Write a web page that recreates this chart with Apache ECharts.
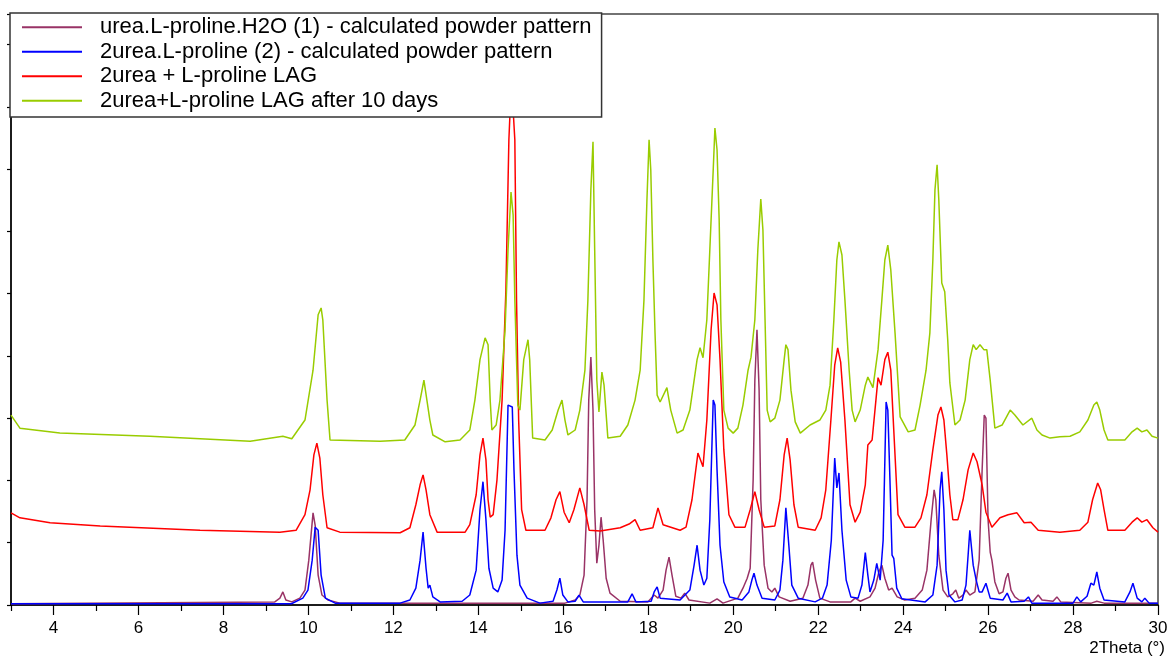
<!DOCTYPE html>
<html>
<head>
<meta charset="utf-8">
<script src="https://cdn.jsdelivr.net/npm/echarts@6/dist/echarts.min.js"></script>
<style>
html,body{margin:0;padding:0;background:#fff;}
#chart{width:1171px;height:660px;}
</style>
</head>
<body>
<div id="chart"></div>
<script>
// ---- Data (2Theta in degrees, intensity in arbitrary counts) ----
const seriesNames = [
  'urea.L-proline.H2O (1) - calculated powder pattern',
  '2urea.L-proline (2) - calculated powder pattern',
  '2urea + L-proline LAG',
  '2urea+L-proline LAG after 10 days'
];

const majorTicks = [4,6,8,10,12,14,16,18,20,22,24,26,28,30];
const minorTicks = [3,5,7,9,11,13,15,17,19,21,23,25,27,29];

const patternH2O = [
  [3.00,2],[9.21,5],[9.33,11],[9.40,21],[9.47,8],[9.61,5],[9.80,11],[9.92,24],[10.01,72],
  [10.11,148],[10.16,128],[10.23,48],[10.32,16],[10.46,8],[10.74,3],[16.04,3],[16.28,8],
  [16.39,16],[16.49,48],[16.56,169],[16.60,329],[16.65,398],[16.70,313],[16.74,153],[16.79,67],
  [16.84,96],[16.89,141],[16.94,104],[17.01,43],[17.10,19],[17.34,6],[17.99,5],[18.14,16],
  [18.23,11],[18.35,24],[18.42,56],[18.49,77],[18.56,48],[18.65,14],[18.77,11],[18.86,19],
  [18.96,8],[19.45,3],[19.62,10],[19.76,3],[20.11,11],[20.23,27],[20.33,43],[20.40,59],
  [20.47,201],[20.51,361],[20.56,442],[20.61,345],[20.65,169],[20.73,64],[20.82,27],[20.91,21],
  [20.98,27],[21.08,13],[21.34,6],[21.64,11],[21.76,32],[21.83,64],[21.87,69],[21.94,40],
  [22.04,11],[22.28,5],[22.77,5],[22.87,11],[22.99,6],[23.22,13],[23.34,27],[23.43,53],
  [23.50,64],[23.57,43],[23.66,24],[23.74,27],[23.86,13],[24.04,8],[24.28,11],[24.45,24],
  [24.56,56],[24.66,137],[24.73,185],[24.77,169],[24.84,80],[24.94,24],[25.05,13],[25.17,18],
  [25.24,24],[25.31,11],[25.41,16],[25.48,24],[25.57,16],[25.69,21],[25.79,72],[25.86,217],
  [25.91,305],[25.95,300],[26.00,137],[26.05,85],[26.09,72],[26.16,37],[26.26,18],[26.35,21],
  [26.42,43],[26.47,51],[26.54,24],[26.63,13],[26.73,8],[27.06,6],[27.18,16],[27.27,8],
  [27.53,6],[27.62,13],[27.71,5],[28.43,3],[28.56,6],[28.73,3],[30.00,3]
];

const pattern2Urea = [
  [3.00,2],[9.60,2],[9.87,11],[9.99,24],[10.09,72],[10.16,125],[10.23,120],[10.30,48],
  [10.40,11],[10.63,3],[12.16,3],[12.39,8],[12.53,27],[12.63,72],[12.70,117],[12.77,59],
  [12.82,27],[12.86,32],[12.93,13],[13.10,5],[13.62,6],[13.80,16],[13.95,56],[14.04,153],
  [14.11,198],[14.18,137],[14.25,59],[14.35,27],[14.46,21],[14.56,40],[14.63,120],[14.70,321],
  [14.80,318],[14.84,217],[14.91,80],[14.98,32],[15.15,11],[15.45,3],[15.76,6],[15.85,24],
  [15.92,43],[15.99,16],[16.11,5],[16.28,6],[16.37,16],[16.47,5],[17.52,5],[17.62,18],
  [17.71,5],[18.07,6],[18.14,21],[18.21,29],[18.28,11],[18.75,8],[18.98,24],[19.08,64],
  [19.15,96],[19.22,56],[19.31,32],[19.38,43],[19.45,137],[19.53,329],[19.57,321],[19.62,217],
  [19.69,96],[19.78,37],[19.92,13],[20.21,8],[20.37,21],[20.44,40],[20.49,51],[20.56,32],
  [20.68,11],[20.98,8],[21.10,24],[21.17,72],[21.24,156],[21.31,96],[21.38,32],[21.53,11],
  [21.93,5],[22.10,11],[22.21,32],[22.31,104],[22.39,236],[22.44,188],[22.49,212],[22.56,120],
  [22.66,40],[22.77,13],[22.94,11],[23.03,32],[23.11,84],[23.17,48],[23.22,21],[23.31,40],
  [23.38,67],[23.46,40],[23.53,104],[23.60,326],[23.64,313],[23.69,201],[23.74,80],[23.78,75],
  [23.85,27],[23.97,10],[24.52,5],[24.70,16],[24.80,64],[24.87,185],[24.91,214],[24.96,153],
  [25.01,56],[25.08,16],[25.22,5],[25.39,8],[25.48,32],[25.53,80],[25.57,120],[25.65,64],
  [25.72,40],[25.79,21],[25.86,21],[25.95,35],[26.05,11],[26.35,8],[26.45,19],[26.54,5],
  [26.85,6],[26.95,13],[27.03,3],[28.00,3],[28.09,13],[28.18,5],[28.33,14],[28.42,35],
  [28.49,32],[28.56,53],[28.63,27],[28.73,8],[29.22,5],[29.34,21],[29.41,35],[29.51,11],
  [29.62,5],[29.69,11],[29.79,3],[30.00,3]
];

const patternLAG = [
  [3.00,148],[3.21,140],[3.92,132],[5.10,127],[7.45,120],[9.33,117],[9.71,120],[9.92,145],
  [10.04,185],[10.13,241],[10.20,260],[10.27,236],[10.34,177],[10.44,124],[10.74,117],
  [12.16,116],[12.39,124],[12.53,161],[12.63,193],[12.70,209],[12.77,185],[12.86,145],
  [13.03,117],[13.69,117],[13.80,129],[13.95,177],[14.04,241],[14.11,268],[14.18,233],
  [14.23,169],[14.28,141],[14.35,145],[14.44,201],[14.56,329],[14.65,506],[14.72,747],
  [14.78,843],[14.86,747],[14.90,490],[14.95,297],[15.02,153],[15.12,120],[15.57,120],
  [15.71,140],[15.83,169],[15.92,182],[16.02,149],[16.14,132],[16.25,153],[16.39,188],
  [16.49,161],[16.61,120],[16.87,119],[17.34,124],[17.55,130],[17.69,137],[17.81,120],
  [18.11,124],[18.23,156],[18.35,129],[18.75,120],[18.89,125],[19.03,169],[19.17,244],
  [19.29,222],[19.38,297],[19.48,442],[19.55,501],[19.62,482],[19.69,394],[19.78,249],
  [19.90,145],[20.04,125],[20.28,125],[20.40,153],[20.51,182],[20.61,153],[20.73,125],
  [20.98,127],[21.10,169],[21.20,241],[21.27,268],[21.34,233],[21.43,161],[21.53,125],
  [21.93,120],[22.07,140],[22.18,185],[22.30,297],[22.39,385],[22.46,413],[22.53,390],
  [22.63,297],[22.75,161],[22.87,133],[22.99,149],[23.11,193],[23.17,257],[23.27,265],
  [23.36,329],[23.41,365],[23.48,353],[23.57,394],[23.64,406],[23.71,377],[23.78,281],
  [23.88,145],[24.04,125],[24.28,125],[24.42,140],[24.56,177],[24.70,249],[24.82,305],
  [24.89,318],[24.96,297],[25.03,241],[25.10,177],[25.17,137],[25.29,137],[25.41,169],
  [25.53,217],[25.65,244],[25.74,230],[25.86,193],[25.95,149],[26.09,125],[26.28,140],
  [26.47,145],[26.68,148],[26.85,132],[27.01,133],[27.18,120],[27.69,117],[28.16,120],
  [28.35,133],[28.46,169],[28.58,196],[28.65,185],[28.73,153],[28.82,120],[29.22,120],
  [29.39,133],[29.51,140],[29.62,133],[29.74,137],[29.88,124],[30.00,117]
];

const patternLAG10d = [
  [3.00,305],[3.21,284],[4.15,276],[6.27,271],[8.63,263],[9.40,271],[9.61,267],[9.92,297],
  [10.11,377],[10.23,466],[10.30,477],[10.34,458],[10.44,329],[10.51,265],[11.69,263],
  [12.27,265],[12.51,289],[12.63,329],[12.72,361],[12.86,297],[12.93,273],[13.22,262],
  [13.57,265],[13.80,281],[13.92,329],[14.04,394],[14.16,429],[14.23,418],[14.28,329],
  [14.32,281],[14.42,289],[14.51,329],[14.63,442],[14.70,570],[14.77,663],[14.82,626],
  [14.86,490],[14.93,321],[14.98,313],[15.07,394],[15.17,426],[15.21,394],[15.28,268],
  [15.57,265],[15.74,281],[15.88,313],[15.97,329],[16.04,297],[16.11,273],[16.28,281],
  [16.39,313],[16.51,377],[16.58,490],[16.65,667],[16.70,744],[16.74,570],[16.79,361],
  [16.84,310],[16.91,374],[16.96,353],[17.05,268],[17.34,271],[17.52,289],[17.69,329],
  [17.81,377],[17.90,490],[17.97,651],[18.02,747],[18.06,699],[18.11,554],[18.16,437],
  [18.21,337],[18.28,326],[18.44,349],[18.53,313],[18.68,276],[18.82,281],[18.98,313],
  [19.15,394],[19.22,413],[19.29,397],[19.38,458],[19.45,570],[19.53,699],[19.57,766],
  [19.62,731],[19.67,618],[19.71,458],[19.78,313],[19.88,284],[20.00,276],[20.11,284],
  [20.23,321],[20.35,377],[20.42,398],[20.51,458],[20.58,570],[20.65,652],[20.70,602],
  [20.75,458],[20.80,313],[20.87,294],[20.98,300],[21.10,329],[21.20,394],[21.24,418],
  [21.29,410],[21.36,345],[21.46,294],[21.58,276],[21.81,289],[22.04,297],[22.18,313],
  [22.28,353],[22.37,458],[22.44,554],[22.49,583],[22.56,562],[22.63,490],[22.73,377],
  [22.80,313],[22.87,294],[22.99,313],[23.11,353],[23.17,366],[23.29,349],[23.41,410],
  [23.50,490],[23.57,554],[23.64,578],[23.71,538],[23.81,437],[23.93,302],[24.12,278],
  [24.28,281],[24.40,321],[24.54,377],[24.63,437],[24.70,554],[24.75,667],[24.80,707],
  [24.84,651],[24.91,517],[24.98,503],[25.05,426],[25.10,357],[25.22,289],[25.34,297],
  [25.46,329],[25.57,394],[25.65,418],[25.72,410],[25.81,418],[25.90,410],[25.97,410],
  [26.05,361],[26.16,284],[26.33,289],[26.52,313],[26.63,305],[26.82,289],[27.03,300],
  [27.15,281],[27.27,273],[27.46,268],[27.69,270],[27.93,271],[28.16,278],[28.35,297],
  [28.49,321],[28.56,326],[28.63,313],[28.73,281],[28.82,265],[29.22,265],[29.39,278],
  [29.51,284],[29.62,278],[29.74,281],[29.86,271],[30.00,268]
];

const seriesData = [patternH2O, pattern2Urea, patternLAG, patternLAG10d];
const seriesColors = ['#993366', '#0000ff', '#ff0000', '#99cc00'];

// ---- Chart ----
const FONT = '"Liberation Sans", Arial, sans-serif';
const chart = echarts.init(document.getElementById('chart'), null, {renderer: 'canvas'});

const option = {
  animation: false,
  backgroundColor: '#ffffff',
  textStyle: {fontFamily: FONT},
  grid: {
    left: 11, right: 13, top: 14, bottom: 55,
    show: true, borderColor: '#444', borderWidth: 1.5, backgroundColor: 'transparent'
  },
  legend: {
    data: seriesNames,
    orient: 'vertical',
    left: 10, top: 13,
    z: 20,
    icon: 'rect',
    itemWidth: 60, itemHeight: 2,
    itemGap: 0,
    padding: [2, 10, 4, 12],
    backgroundColor: '#ffffff',
    borderColor: '#333',
    borderWidth: 1.5,
    selectedMode: false,
    textStyle: {
      fontFamily: FONT, fontSize: 22, color: '#000',
      lineHeight: 24.5, padding: [0, 0, 0, 13]
    }
  },
  xAxis: [{
    type: 'value', min: 3, max: 30,
    name: '2Theta (°)',
    nameLocation: 'end', nameGap: 7,
    nameTextStyle: {fontFamily: FONT, fontSize: 17, color: '#000', align: 'right', verticalAlign: 'top', padding: [35, 0, 0, 0]},
    axisLine: {show: true, onZero: false, lineStyle: {color: '#000', width: 1.5}},
    axisTick: {show: true, inside: false, length: 10, customValues: majorTicks, lineStyle: {color: '#000', width: 1.2}},
    axisLabel: {show: true, customValues: majorTicks, margin: 15, fontFamily: FONT, fontSize: 17, color: '#000'},
    splitLine: {show: false}
  }, {
    type: 'value', min: 3, max: 30, position: 'bottom',
    axisLine: {show: false},
    axisTick: {show: true, inside: false, length: 6, customValues: minorTicks, lineStyle: {color: '#000', width: 1.2}},
    axisLabel: {show: false},
    splitLine: {show: false}
  }],
  yAxis: {
    type: 'value', min: 0, max: 949, interval: 100,
    axisLine: {show: true, onZero: false, lineStyle: {color: '#000', width: 1.5}},
    axisTick: {show: true, inside: false, length: 4, lineStyle: {color: '#000', width: 1.2}},
    axisLabel: {show: false},
    splitLine: {show: false}
  },
  series: seriesNames.map((name, i) => ({
    name: name,
    type: 'line',
    xAxisIndex: 0,
    data: seriesData[i],
    showSymbol: false,
    symbol: 'none',
    color: seriesColors[i],
    lineStyle: {color: seriesColors[i], width: 1.5},
    itemStyle: {color: seriesColors[i]},
    z: 2
  }))
};
chart.setOption(option);
</script>
</body>
</html>
